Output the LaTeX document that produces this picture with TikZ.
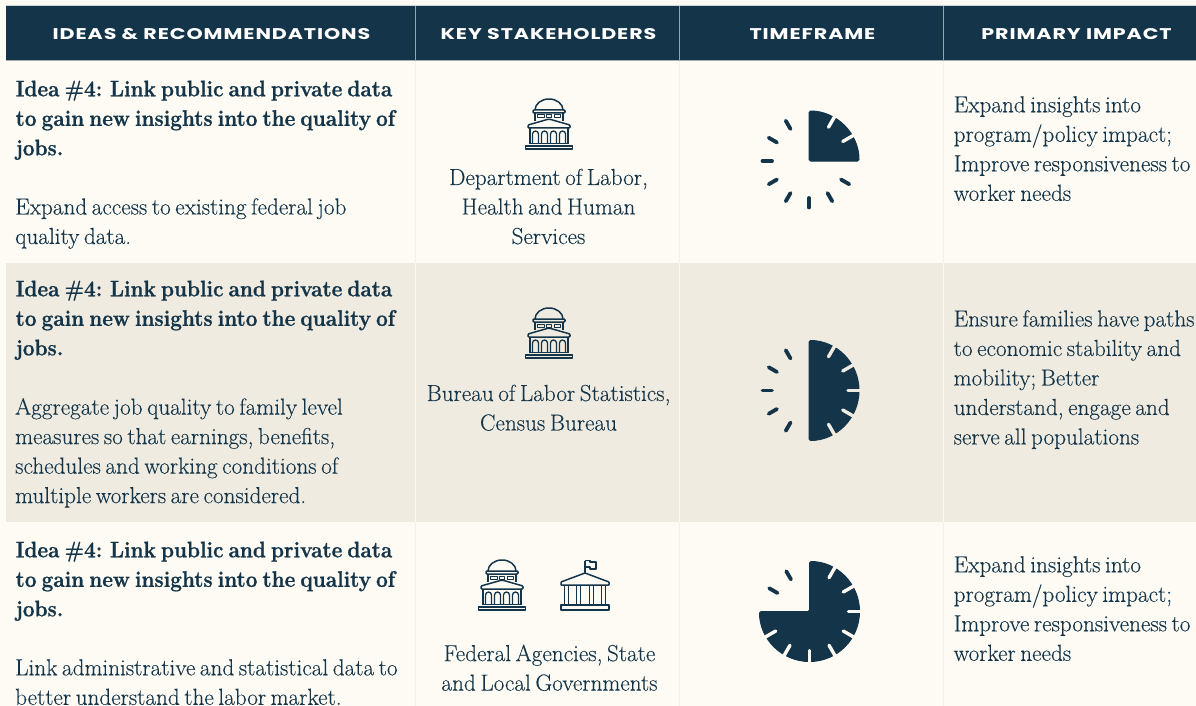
\documentclass[tikz,border=0pt]{standalone}
\usepackage{fontspec}
\newfontfamily\headfont[LetterSpace=6,FakeStretch=1.33]{Poppins}
\newfontfamily\titlefont[FakeStretch=0.925,WordSpace=0.65,BoldFeatures={FakeBold=0.9}]{Latin Modern Roman}
\newfontfamily\bodyfont[WordSpace=0.65,FakeBold=0.15]{Latin Modern Roman}
\definecolor{cream}{HTML}{FDFBF3}
\definecolor{band}{HTML}{EFEBE1}
\definecolor{navy}{HTML}{143549}
\definecolor{sepcol}{HTML}{F3F0E8}
\tikzset{
 x=1pt,y=-1pt,
 head/.style={text=white,font=\headfont\bfseries\fontsize{15.5}{18}\selectfont,anchor=center,inner sep=0pt},
 titletxt/.style={text=navy,font=\titlefont\bfseries\fontsize{22.5}{29.5}\selectfont,align=left,anchor=north west,inner sep=0pt},
 bodytxt/.style={text=navy,font=\bodyfont\fontsize{23.2}{29.5}\selectfont,align=left,anchor=north west,inner sep=0pt},
 ctrtxt/.style={text=navy,font=\bodyfont\fontsize{23.2}{29.5}\selectfont,align=center,anchor=north,inner sep=0pt},
 iconline/.style={draw=navy,line width=1.5pt,fill=none,line join=round},
 tick/.style={draw=navy,line width=3.8pt,line cap=round},
 gaptick/.style={line width=3.4pt,line cap=round},
 wedge/.style={fill=navy,draw=navy,line width=1pt,line join=round},
}
% capitol icon, centred on (#1,#2)
\newcommand{\capitol}[2]{\begin{scope}[shift={(#1,#2)}]
 \draw[iconline] (-14,-14) arc[start angle=180,end angle=360,x radius=14,y radius=11];
 \draw[iconline,rounded corners=1pt] (-16,-14) rectangle (16,-11);
 \draw[iconline] (-14,-11) -- (-14,-3) (14,-11) -- (14,-3);
 \draw[iconline,line width=1pt] (-12,-9) rectangle (-5,-6) (-2.5,-9) rectangle (2.5,-6) (5,-9) rectangle (11,-6);
 \draw[iconline,rounded corners=1pt] (-21,1) -- (0,-5) -- (21,1) -- (21,4) -- (-21,4) -- cycle;
 \draw[iconline] (-19,4) -- (-19,19) (19,4) -- (19,19);
 \foreach \a in {-13.5,-4.5,4.5,13.5}{
  \draw[iconline,line width=1.3pt] (\a-3,19) -- (\a-3,10) arc[start angle=180,end angle=360,radius=3] -- (\a+3,19);}
 \draw[iconline] (-20,19.5) -- (20,19.5);
 \draw[iconline] (-23.5,22) rectangle (23.5,25);
\end{scope}}
% clock, centre (#1,#2), #3 = twelfths filled, #4 = background colour
\newcommand{\clockface}[4]{\begin{scope}[shift={(#1,#2)}]
 \pgfmathsetmacro{\fillend}{-90+30*#3}
 \draw[wedge,rounded corners=1.5pt] (0,0) -- (0,-50) arc[start angle=-90,end angle=\fillend,radius=50] -- cycle;
 \pgfmathtruncatemacro{\lastfilled}{#3-1}
 \foreach \k in {1,...,\lastfilled}{
  \draw[gaptick,draw=#4] ({sin(30*\k)*39},{-cos(30*\k)*39}) -- ({sin(30*\k)*54},{-cos(30*\k)*54});}
 \pgfmathtruncatemacro{\firstempty}{#3+1}
 \foreach \k in {\firstempty,...,11}{
  \draw[tick] ({sin(30*\k)*37},{-cos(30*\k)*37}) -- ({sin(30*\k)*46.5},{-cos(30*\k)*46.5});}
\end{scope}}
\begin{document}
\begin{tikzpicture}
\useasboundingbox (0,0) rectangle (1196,706);
\fill[cream] (0,0) rectangle (1196,706);
\fill[navy] (6,5) rectangle (1196,61);
\fill[band] (6,262.5) rectangle (1196,522);
\foreach \x in {415.5,679.5,943.5}{
 \draw[sepcol,line width=1pt] (\x,61) -- (\x,262.5);
 \draw[cream,line width=1pt] (\x,262.5) -- (\x,522);
 \draw[sepcol,line width=1pt] (\x,522) -- (\x,706);
 \draw[white!55!navy,line width=1pt] (\x,5) -- (\x,61);}
\draw[white!60!navy,line width=1pt] (6,61) -- (1196,61);
\draw[white!80!navy,line width=.5pt] (6,5) -- (1196,5);
\node[head] (h1) at (211.5,34) {IDEAS \& RECOMMENDATIONS};
\node[head] (h2) at (548.5,34) {KEY STAKEHOLDERS};
\node[head] (h3) at (812.5,34) {TIMEFRAME};
\node[head] (h4) at (1076.5,34) {PRIMARY IMPACT};
% row 1
\node[titletxt] (t1) at (15.5,80.5) {Idea \#4: Link public and private data\\to gain new insights into the quality of\\jobs.};
\node[bodytxt] (b1) at (15,198) {Expand access to existing federal job\\quality data.};
\capitol{549}{124}
\node[ctrtxt] (s1) at (548.5,168.5) {Department of Labor,\\Health and Human\\Services};
\clockface{809}{161}{3}{cream}
\node[bodytxt] (p1) at (953.5,96) {Expand insights into\\program/policy impact;\\Improve responsiveness to\\worker needs};
% row 2
\node[titletxt] (t2) at (15.5,280.5) {Idea \#4: Link public and private data\\to gain new insights into the quality of\\jobs.};
\node[bodytxt] (b2) at (15,398) {Aggregate job quality to family level\\measures so that earnings, benefits,\\schedules and working conditions of\\multiple workers are considered.};
\capitol{549}{333}
\node[ctrtxt] (s2) at (548.5,384.5) {Bureau of Labor Statistics,\\Census Bureau};
\clockface{809}{390.5}{6}{band}
\node[bodytxt] (p2) at (953.5,310) {Ensure families have paths\\to economic stability and\\mobility; Better\\understand, engage and\\serve all populations};
% row 3
\node[titletxt] (t3) at (15.5,541.5) {Idea \#4: Link public and private data\\to gain new insights into the quality of\\jobs.};
\node[bodytxt] (b3) at (15,659) {Link administrative and statistical data to\\better understand the labor market.};
\capitol{502}{585}
\begin{scope}[shift={(585,585)}]
 \draw[iconline] (0,-12) -- (0,-24.5);
 \draw[iconline,line width=1.3pt] (0,-24.5) -- (5,-24.5) -- (5,-23) -- (11,-23) -- (11,-16) -- (5,-16) -- (5,-18) -- (0,-18);
 \draw[iconline,rounded corners=.5pt] (-24,0) -- (-24,-3) -- (0,-12) -- (24,-3) -- (24,0) -- cycle;
 \foreach \a in {-20.7,-16.3,-8.3,-4.3,4.3,8.3,16.3,20.7}{\draw[iconline] (\a,0) -- (\a,20);}
 \draw[iconline] (-24,20) rectangle (24,25);
\end{scope}
\node[ctrtxt] (s3) at (549.5,644.5) {Federal Agencies, State\\and Local Governments};
\clockface{809.5}{611.5}{9}{cream}
\node[bodytxt] (p3) at (953.5,556) {Expand insights into\\program/policy impact;\\Improve responsiveness to\\worker needs};
\end{tikzpicture}
\end{document}
